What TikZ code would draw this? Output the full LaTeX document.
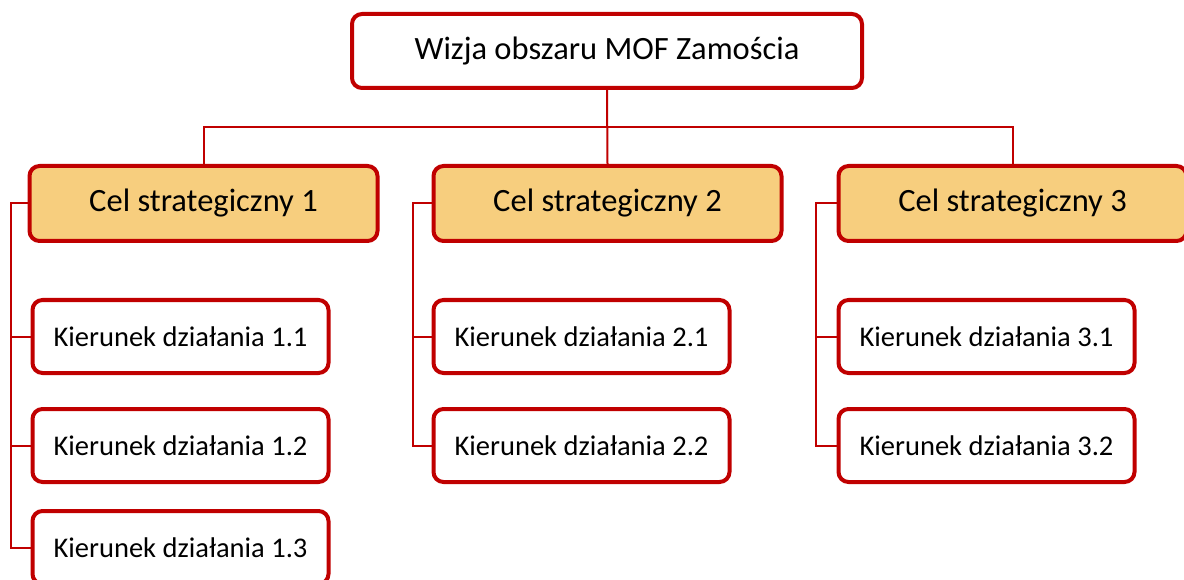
\documentclass[tikz,border=0pt]{standalone}
\usepackage{fontspec}
\setmainfont{Carlito}
\usetikzlibrary{positioning,calc}

\definecolor{ramka}{HTML}{C00000}
\definecolor{zloty}{HTML}{F7CE7E}

\begin{document}
\begin{tikzpicture}[
        x=1pt, y=1pt,
        node distance=55pt and 52pt,
        wizja/.style={rectangle, rounded corners=10pt, draw=ramka, line width=4pt, fill=white,
            minimum width=510pt, minimum height=74pt, font=\fontsize{32.5}{36}\selectfont},
        cel/.style={rectangle, rounded corners=10pt, draw=ramka, line width=4pt, fill=zloty,
            minimum width=348pt, minimum height=75pt, font=\fontsize{32.5}{36}\selectfont},
        kier/.style={rectangle, rounded corners=10pt, draw=ramka, line width=4pt, fill=white,
            minimum width=296pt, minimum height=73pt, font=\fontsize{28.5}{32}\selectfont},
        link/.style={draw=ramka, line width=2pt}
    ]
        \clip (0,0) rectangle (1184,-580);

        \node[wizja] (vis) at (607,-51) {Wizja obszaru MOF Zamościa};

        \node[cel] (cel2) at (607.5,-203.5) {Cel strategiczny 2};
        \node[cel, left=of cel2] (cel1) {Cel strategiczny 1};
        \node[cel, right=53pt of cel2] (cel3) {Cel strategiczny 3};

        \node[kier, below right=55pt and 3pt of cel1.south west, anchor=north west] (k11) {Kierunek działania 1.1};
        \node[kier, below=32pt of k11] (k12) {Kierunek działania 1.2};
        \node[kier, below=25pt of k12] (k13) {Kierunek działania 1.3};

        \node[kier, below right=55pt and 0pt of cel2.south west, anchor=north west] (k21) {Kierunek działania 2.1};
        \node[kier, below=32pt of k21] (k22) {Kierunek działania 2.2};

        \node[kier, below right=55pt and 0pt of cel3.south west, anchor=north west] (k31) {Kierunek działania 3.1};
        \node[kier, below=32pt of k31] (k32) {Kierunek działania 3.2};

        % szyna pod wizja
        \coordinate (bus) at ($(vis.south)!.5!(cel2.north)$);
        \draw[link] (vis.south) -- (cel2.north);
        \draw[link] (cel1.north) |- (bus) -| (cel3.north);

        % piony przy celach
        \coordinate[left=17pt of cel1.west] (t1);
        \coordinate[left=19pt of cel2.west] (t2);
        \coordinate[left=21pt of cel3.west] (t3);
        \draw[link] (cel1.west) -- (t1) |- (k13.west);
        \draw[link] (cel2.west) -- (t2) |- (k22.west);
        \draw[link] (cel3.west) -- (t3) |- (k32.west);
        \foreach \k in {11,12}
            \draw[link] (t1 |- k\k.west) -- (k\k.west);
        \draw[link] (t2 |- k21.west) -- (k21.west);
        \draw[link] (t3 |- k31.west) -- (k31.west);
\end{tikzpicture}
\end{document}
